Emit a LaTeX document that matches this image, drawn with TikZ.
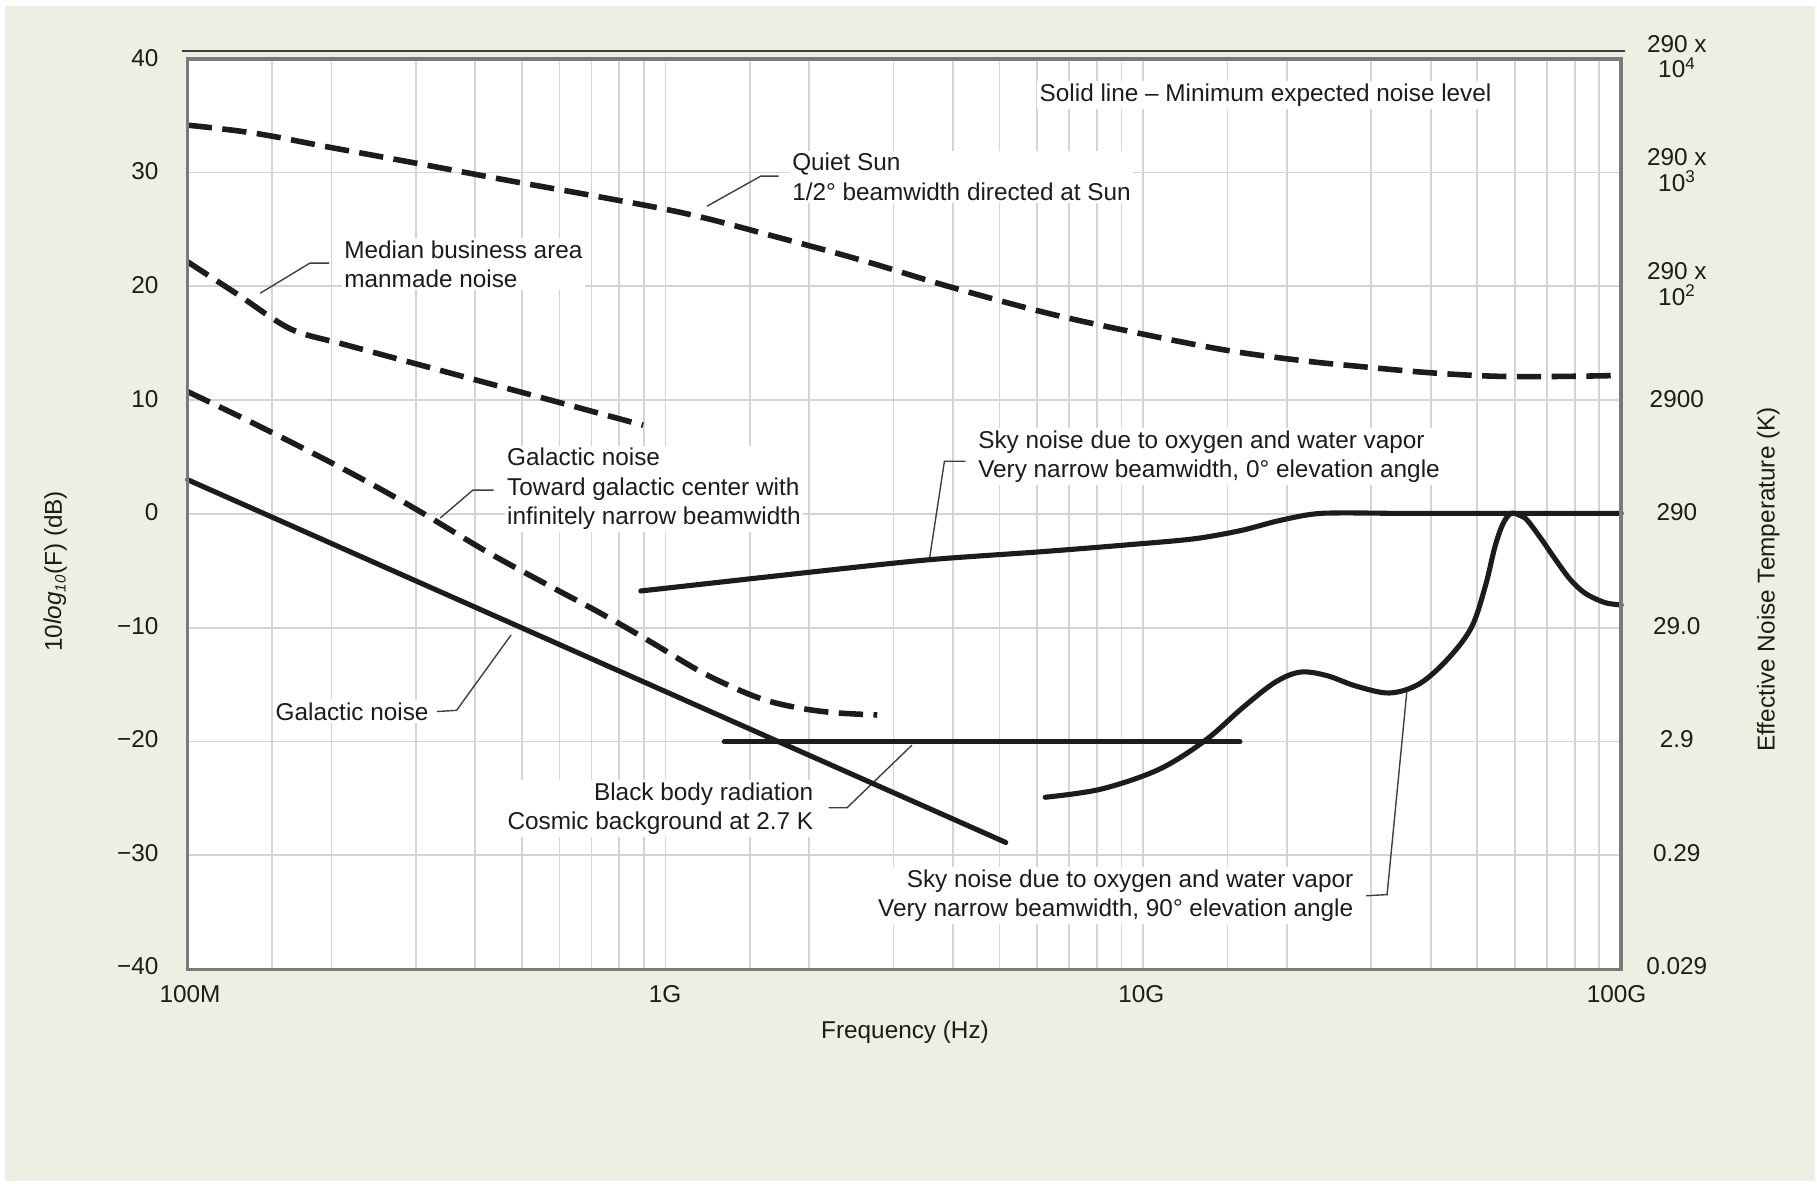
\documentclass[tikz,border=0pt]{standalone}
\usepackage{fontspec}
\setmainfont{Liberation Sans}
\definecolor{bgc}{RGB}{236,239,225}
\definecolor{gridc}{RGB}{212,212,212}
\definecolor{framec}{RGB}{122,122,122}
\definecolor{inkc}{RGB}{28,28,28}
\begin{document}
\begin{tikzpicture}[x=1pt,y=-1pt,
  font=\fontsize{21}{25.5}\selectfont, text=inkc,
  curve/.style={line width=4.4pt, draw=inkc, line cap=round, line join=round},
  dcurve/.style={line width=4.8pt, draw=inkc, line cap=butt, line join=round, dash pattern=on 21pt off 9pt},
  leader/.style={line width=1.2pt, draw=inkc!85},
  lbl/.style={fill=white, inner sep=2pt, align=left},
  lblr/.style={fill=white, inner sep=2pt, align=right},
  tick/.style={inner sep=0pt},
  rtick/.style={inner sep=0pt, align=center, font=\fontsize{21}{22}\selectfont},
  gridline/.style={draw=gridc, line width=1.6pt}]

\useasboundingbox (0,0) rectangle (1568,1021);
\fill[white] (0,0) rectangle (1568,1021);
\fill[bgc] (4,5) rectangle (1566,1019);
\fill[white] (162,51) rectangle (1399,836.5);

% grid
\foreach \d in {0,1,2} {
  \foreach \m in {1.5,2,3,4,5,6,7,8,9} {
    \pgfmathsetmacro\gx{162+412.33*(\d+log10(\m))}
    \draw[gridline] (\gx,51) -- (\gx,836.5);
  }
}
\draw[gridline] (574.33,51) -- (574.33,836.5);
\draw[gridline] (986.67,51) -- (986.67,836.5);
\foreach \v in {-30,-20,...,30} {
  \pgfmathsetmacro\gy{443.5-9.82*\v}
  \draw[gridline] (162,\gy) -- (1399,\gy);
}

% left tick labels
\node[tick, anchor=east] (l40) at (137,50) {40};
\node[tick, anchor=east] (l30) at (137,148) {30};
\node[tick, anchor=east] (l20) at (137,246) {20};
\node[tick, anchor=east] (l10) at (137,344) {10};
\node[tick, anchor=east] (l0) at (137,442) {0};
\node[tick, anchor=east] (lm10) at (137,540) {−10};
\node[tick, anchor=east] (lm20) at (137,638) {−20};
\node[tick, anchor=east] (lm30) at (137,736) {−30};
\node[tick, anchor=east] (lm40) at (137,834) {−40};

% right tick labels
\node[rtick] (r40) at (1447,49) {290 x\\10\textsuperscript{4}};
\node[rtick] (r30) at (1447,147) {290 x\\10\textsuperscript{3}};
\node[rtick] (r20) at (1447,245) {290 x\\10\textsuperscript{2}};
\node[rtick] (r10) at (1447,344) {2900};
\node[rtick] (r0) at (1447,442) {290};
\node[rtick] (rm10) at (1447,540) {29.0};
\node[rtick] (rm20) at (1447,638) {2.9};
\node[rtick] (rm30) at (1447,736) {0.29};
\node[rtick] (rm40) at (1447,834) {0.029};

% bottom tick labels
\node[tick] (b1) at (164,858) {100M};
\node[tick] (b2) at (574,858) {1G};
\node[tick] (b3) at (985,858) {10G};
\node[tick] (b4) at (1395,858) {100G};

% axis titles
\node[rotate=90] (ytitle) at (48,493) {10\textit{log}\textsubscript{\textit{\fontsize{13}{13}\selectfont 10}}(F) (dB)};
\node[rotate=90] (y2title) at (1526,500) {Effective Noise Temperature (K)};
\node (xtitle) at (781,891) {Frequency (Hz)};

% labels
\node[lbl, anchor=west] (solid) at (895,82) {Solid line – Minimum expected noise level};
\node[lbl, anchor=west] (sun) at (681.5,152.5) {Quiet Sun\\1/2° beamwidth directed at Sun};
\node[lbl, anchor=west] (biz) at (295,228) {Median business area\\manmade noise};
\node[lbl, anchor=west] (galc) at (435.5,422) {Galactic noise\\Toward galactic center with\\infinitely narrow beamwidth};
\node[lbl, anchor=east] (gal) at (372,614) {Galactic noise};
\node[lblr, anchor=east] (bb) at (704,698) {Black body radiation\\Cosmic background at 2.7 K};
\node[lbl, anchor=west] (sky0) at (842,394) {Sky noise due to oxygen and water vapor\\Very narrow beamwidth, 0° elevation angle};
\node[lblr, anchor=east] (sky90) at (1170,773) {Sky noise due to oxygen and water vapor\\Very narrow beamwidth, 90° elevation angle};

% leader coordinates
\coordinate (bizA) at (224.6,253); \coordinate (bizB) at (267.5,227); \coordinate (bizC) at (284,227);
\coordinate (sunA) at (610,178); \coordinate (sunB) at (656.5,152); \coordinate (sunC) at (672,152);
\coordinate (galcA) at (380,447); \coordinate (galcB) at (408,423); \coordinate (galcC) at (426,423);
\coordinate (galA) at (441,548); \coordinate (galB) at (394,613); \coordinate (galC) at (377,614);
\coordinate (bbA) at (787,643); \coordinate (bbB) at (731,697); \coordinate (bbC) at (715,697);
\coordinate (skyA) at (802,483); \coordinate (skyB) at (815,398); \coordinate (skyC) at (833,398);
\coordinate (skzA) at (1214,597); \coordinate (skzB) at (1197,772); \coordinate (skzC) at (1179,773);

\draw[leader] (bizA) -- (bizB) -- (bizC);
\draw[leader] (sunA) -- (sunB) -- (sunC);
\draw[leader] (galcA) -- (galcB) -- (galcC);
\draw[leader] (galA) -- (galB) -- (galC);
\draw[leader] (bbA) -- (bbB) -- (bbC);
\draw[leader] (skyA) -- (skyB) -- (skyC);
\draw[leader] (skzA) -- (skzB) -- (skzC);

% curves
\draw[dcurve] plot[smooth, tension=0.6] coordinates {(162,108) (220,115) (284,127) (360,141) (440,156) (518,170) (595,185) (672,205) (745,225) (818,247) (903,270) (980,287) (1057,302) (1122,311) (1171,316) (1239,322) (1307,325) (1399,324)};
\draw[dcurve] plot[smooth, tension=0.5] coordinates {(162,226) (205,254) (251,284) (300,298) (400,325) (500,352) (555,367)};
\draw[dcurve] plot[smooth, tension=0.6] coordinates {(162,338) (210,361) (260,386) (310,412) (360,440) (420,476) (475,506) (518,529) (560,553) (600,577) (630,592) (660,604) (690,611) (720,615) (757,617)};
\coordinate (g1) at (162,414); \coordinate (g2) at (868,727);
\draw[curve] (g1) -- (g2);
\coordinate (k1) at (625,640); \coordinate (k2) at (1070,640);
\draw[curve] (k1) -- (k2);
\draw[curve] plot[smooth, tension=0.5] coordinates {(553,510) (706,493) (802,483) (900,476) (975,470) (1030,465) (1070,458) (1105,449) (1140,443) (1200,443)} -- (1399,443);
\draw[curve] plot[smooth, tension=0.55] coordinates {(902,688) (950,681) (1000,664) (1040,639) (1072,611) (1100,589) (1122,580) (1145,583) (1170,592) (1199,598) (1225,590) (1250,568) (1270,541) (1282,505) (1290,472) (1297,452) (1304,443) (1312,445) (1318,449) (1330,465) (1341,481) (1355,500) (1368,512) (1385,520) (1399,522)};

% frame
\draw[framec, line width=3pt] (162,51) rectangle (1399,836.5);
\draw[inkc!85, line width=2pt] (157,44) -- (1402,44);
\end{tikzpicture}
\end{document}
